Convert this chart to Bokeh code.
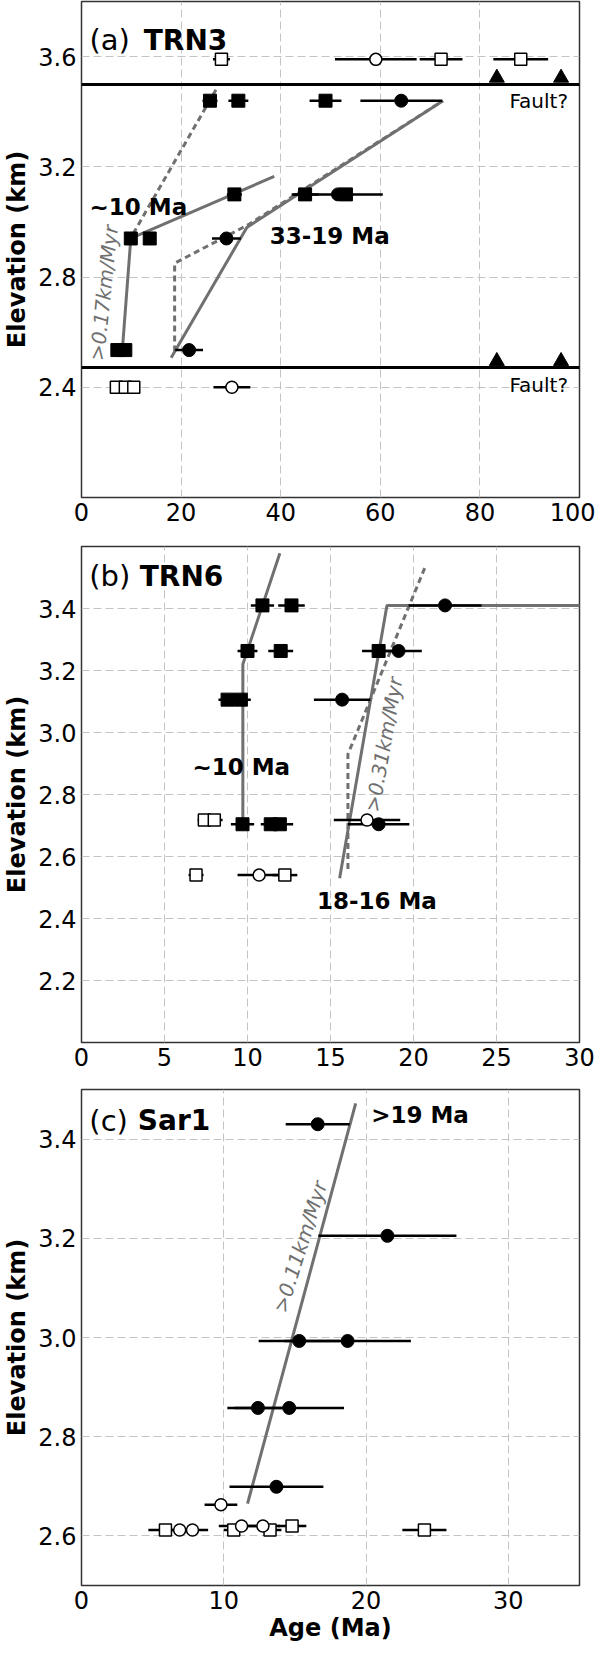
import numpy as np
from bokeh.plotting import figure
from bokeh.models import FixedTicker, PrintfTickFormatter, Range1d
from bokeh.layouts import column
from bokeh.core.properties import value
from bokeh.embed import file_html
from bokeh.resources import INLINE

FONT = "DejaVu Sans"

# ---------------- Panel (a) TRN3 ----------------
a_fsq_age = [25.8, 31.5, 49.0, 30.7, 44.9, 53.1, 9.9, 13.7, 7.2, 8.8]
a_fsq_elev = [3.44, 3.44, 3.44, 3.10, 3.10, 3.10, 2.94, 2.94, 2.535, 2.535]
a_fsq_err = [1.5, 2.0, 3.2, 1.5, 2.7, 1.5, 0.8, 0.8, 0.5, 0.5]
a_fci_age = [64.2, 51.5, 29.1, 21.6]
a_fci_elev = [3.44, 3.10, 2.94, 2.535]
a_fci_err = [8.2, 9.0, 2.9, 2.8]
a_osq_age = [28.1, 72.2, 88.2, 7.0, 8.8, 10.5]
a_osq_elev = [3.59, 3.59, 3.59, 2.40, 2.40, 2.40]
a_osq_err = [1.7, 4.3, 5.5, 0.6, 0.6, 0.6]
a_oci_age = [59.1, 30.2]
a_oci_elev = [3.59, 2.40]
a_oci_err = [8.2, 3.7]
a_tri_age = [83.4, 96.3, 83.4, 96.3]
a_tri_elev = [3.523, 3.523, 2.495, 2.495]
a_fault_elev = [3.50, 2.47]
a_line1_age = [8.2, 9.9, 38.7]
a_line1_elev = [2.535, 2.94, 3.165]
a_line2_age = [18.0, 33.2, 72.6]
a_line2_elev = [2.507, 2.98, 3.44]
a_dash1_age = [27.0, 10.3]
a_dash1_elev = [3.48, 2.955]
a_dash2_age = [18.7, 18.7, 33.5, 72.6]
a_dash2_elev = [2.53, 2.85, 2.99, 3.44]
a_xticks = [0, 20, 40, 60, 80, 100]
a_yticks = [2.4, 2.8, 3.2, 3.6]

# ---------------- Panel (b) TRN6 ----------------
b_fsq_age = [10.9, 12.65, 10.0, 12.0, 17.9, 8.8, 9.6, 9.7, 11.4, 11.95]
b_fsq_elev = [3.41, 3.41, 3.263, 3.263, 3.263, 3.106, 3.106, 2.704, 2.704, 2.704]
b_fsq_err = [0.7, 0.8, 0.6, 0.75, 1.0, 0.55, 0.6, 0.7, 0.6, 0.8]
b_fci_age = [21.9, 19.1, 15.7, 17.9]
b_fci_elev = [3.41, 3.263, 3.106, 2.704]
b_fci_err = [2.2, 1.4, 1.7, 1.85]
b_osq_age = [7.4, 8.0, 6.9, 12.25]
b_osq_elev = [2.718, 2.718, 2.54, 2.54]
b_osq_err = [0.4, 0.5, 0.45, 0.75]
b_oci_age = [17.2, 10.7]
b_oci_elev = [2.718, 2.54]
b_oci_err = [2.0, 1.3]
b_line1_age = [9.72, 9.72, 11.95]
b_line1_elev = [2.70, 3.22, 3.578]
b_line2_age = [15.55, 18.4, 31.0]
b_line2_elev = [2.53, 3.41, 3.41]
b_dash_age = [16.05, 16.05, 20.75]
b_dash_elev = [2.56, 2.93, 3.54]
b_xticks = [0, 5, 10, 15, 20, 25, 30]
b_yticks = [2.2, 2.4, 2.6, 2.8, 3.0, 3.2, 3.4]

# ---------------- Panel (c) Sar1 ----------------
c_fci_age = [16.6, 21.5, 15.3, 18.7, 12.4, 14.6, 13.7]
c_fci_elev = [3.43, 3.205, 2.993, 2.993, 2.858, 2.858, 2.699]
c_fci_err = [2.25, 4.85, 2.85, 4.45, 2.15, 3.85, 3.3]
c_oci_age = [9.8, 11.25, 12.75, 6.9, 7.8]
c_oci_elev = [2.663, 2.62, 2.62, 2.612, 2.612]
c_oci_err = [1.15, 1.6, 1.2, 1.0, 1.1]
c_osq_age = [5.9, 10.7, 13.25, 14.8, 24.1]
c_osq_elev = [2.612, 2.612, 2.612, 2.62, 2.612]
c_osq_err = [1.2, 0.7, 0.8, 1.0, 1.55]
c_line_age = [11.67, 19.27]
c_line_elev = [2.665, 3.472]
c_xticks = [0, 10, 20, 30]
c_yticks = [2.6, 2.8, 3.0, 3.2, 3.4]

GRAY = "#707070"


def make_fig(xr, yr, xticks, yticks, height, top, bottom, xlabel=None):
    p = figure(width=595, height=height, x_range=Range1d(*xr), y_range=Range1d(*yr),
               output_backend="svg", toolbar_location=None,
               min_border_left=80, min_border_right=16,
               min_border_top=top, min_border_bottom=bottom)
    p.outline_line_color = "#333333"
    p.outline_line_width = 1.5
    for g in (p.xgrid, p.ygrid):
        g.grid_line_color = "#c4c4c4"
        g.grid_line_dash = "8 4"
        g.grid_line_width = 1
    p.xaxis.ticker = FixedTicker(ticks=xticks)
    p.yaxis.ticker = FixedTicker(ticks=yticks)
    p.xgrid.ticker = FixedTicker(ticks=xticks)
    p.ygrid.ticker = FixedTicker(ticks=yticks)
    p.yaxis.formatter = PrintfTickFormatter(format="%.1f")
    for ax in (p.xaxis, p.yaxis):
        ax.axis_line_color = None
        ax.major_tick_line_color = None
        ax.minor_tick_line_color = None
        ax.major_tick_out = 0
        ax.major_tick_in = 0
        ax.major_label_text_font = FONT
        ax.major_label_text_font_size = "24px"
        ax.major_label_text_color = "black"
        ax.major_label_standoff = 5
    p.yaxis.axis_label = "Elevation (km)"
    p.yaxis.axis_label_text_font = FONT
    p.yaxis.axis_label_text_font_style = "bold"
    p.yaxis.axis_label_text_font_size = "24px"
    p.yaxis.axis_label_text_color = "black"
    p.yaxis.axis_label_standoff = 4
    if xlabel:
        p.xaxis.axis_label = xlabel
        p.xaxis.axis_label_text_font = FONT
        p.xaxis.axis_label_text_font_style = "bold"
        p.xaxis.axis_label_text_font_size = "24px"
        p.xaxis.axis_label_text_color = "black"
        p.xaxis.axis_label_standoff = 2
    return p


def errbars(p, age, elev, err):
    a = np.array(age)
    e = np.array(err)
    p.segment(x0=a - e, x1=a + e, y0=elev, y1=elev, line_color="black", line_width=2.5)


def points(p, age, elev, marker, filled, size=13):
    if filled:
        p.scatter(age, elev, marker=marker, size=size, fill_color="black", line_color="black", line_width=1)
    else:
        p.scatter(age, elev, marker=marker, size=size - 1, fill_color="white", line_color="black", line_width=1.5)


def label(p, x, y, txt, size="23px", style="bold", align="left", color="black", angle=0.0):
    p.text(x=[x], y=[y], text=[txt], text_font=value(FONT), text_font_size=size,
           text_font_style=style, text_align=align, text_baseline="middle",
           text_color=color, angle=angle)


# ---- (a)
pa = make_fig((0, 100), (2.0, 3.8), a_xticks, a_yticks, 533, 1, 36)
pa.line(a_line1_age, a_line1_elev, line_color=GRAY, line_width=3)
pa.line(a_line2_age, a_line2_elev, line_color=GRAY, line_width=3)
pa.line(a_dash1_age, a_dash1_elev, line_color=GRAY, line_width=3, line_dash="6 4")
pa.line(a_dash2_age, a_dash2_elev, line_color=GRAY, line_width=3, line_dash="6 4")
pa.hspan(y=a_fault_elev, line_color="black", line_width=3)
pa.scatter(a_tri_age, a_tri_elev, marker="triangle", size=15, fill_color="black", line_color="black")
for ag, el, er in [(a_fsq_age, a_fsq_elev, a_fsq_err), (a_fci_age, a_fci_elev, a_fci_err),
                   (a_osq_age, a_osq_elev, a_osq_err), (a_oci_age, a_oci_elev, a_oci_err)]:
    errbars(pa, ag, el, er)
points(pa, a_fsq_age, a_fsq_elev, "square", True)
points(pa, a_fci_age, a_fci_elev, "circle", True)
points(pa, a_osq_age, a_osq_elev, "square", False)
points(pa, a_oci_age, a_oci_elev, "circle", False)
label(pa, 1.6, 3.66, "(a)", size="29px", style="normal")
label(pa, 12.5, 3.66, "TRN3", size="28px")
label(pa, 97.7, 3.44, "Fault?", size="20px", style="normal", align="right")
label(pa, 97.7, 2.41, "Fault?", size="20px", style="normal", align="right")
label(pa, 1.6, 3.054, "~10 Ma")
label(pa, 37.8, 2.95, "33-19 Ma")
label(pa, 4.5, 2.742, ">0.17km/Myr", size="20px", style="italic", align="center",
      color="#707070", angle=np.deg2rad(84))

# ---- (b)
pb = make_fig((0, 30), (2.0, 3.6), b_xticks, b_yticks, 545, 13, 36)
pb.line(b_line1_age, b_line1_elev, line_color=GRAY, line_width=3)
pb.line(b_line2_age, b_line2_elev, line_color=GRAY, line_width=3)
pb.line(b_dash_age, b_dash_elev, line_color=GRAY, line_width=3, line_dash="6 4")
for ag, el, er in [(b_fsq_age, b_fsq_elev, b_fsq_err), (b_fci_age, b_fci_elev, b_fci_err),
                   (b_osq_age, b_osq_elev, b_osq_err), (b_oci_age, b_oci_elev, b_oci_err)]:
    errbars(pb, ag, el, er)
points(pb, b_fsq_age, b_fsq_elev, "square", True)
points(pb, b_fci_age, b_fci_elev, "circle", True)
points(pb, b_osq_age, b_osq_elev, "square", False)
points(pb, b_oci_age, b_oci_elev, "circle", False)
label(pb, 0.47, 3.504, "(b)", size="29px", style="normal")
label(pb, 3.51, 3.504, "TRN6", size="28px")
label(pb, 6.68, 2.889, "~10 Ma")
label(pb, 14.18, 2.456, "18-16 Ma")
label(pb, 18.22, 2.961, ">0.31km/Myr", size="20px", style="italic", align="center",
      color="#707070", angle=np.deg2rad(80))

# ---- (c)
pc = make_fig((0, 35), (2.5, 3.5), c_xticks, c_yticks, 567, 11, 60, xlabel="Age (Ma)")
pc.line(c_line_age, c_line_elev, line_color=GRAY, line_width=3)
for ag, el, er in [(c_fci_age, c_fci_elev, c_fci_err), (c_oci_age, c_oci_elev, c_oci_err),
                   (c_osq_age, c_osq_elev, c_osq_err)]:
    errbars(pc, ag, el, er)
points(pc, c_fci_age, c_fci_elev, "circle", True)
points(pc, c_osq_age, c_osq_elev, "square", False)
points(pc, c_oci_age, c_oci_elev, "circle", False)
label(pc, 0.55, 3.437, "(c)", size="29px", style="normal")
label(pc, 3.96, 3.437, "Sar1", size="28px")
label(pc, 20.36, 3.448, ">19 Ma")
label(pc, 15.38, 3.183, ">0.11km/Myr", size="20px", style="italic", align="center",
      color="#707070", angle=np.deg2rad(72.5))

layout = column(pa, pb, pc)
open("out.html", "w").write(file_html(layout, INLINE))
